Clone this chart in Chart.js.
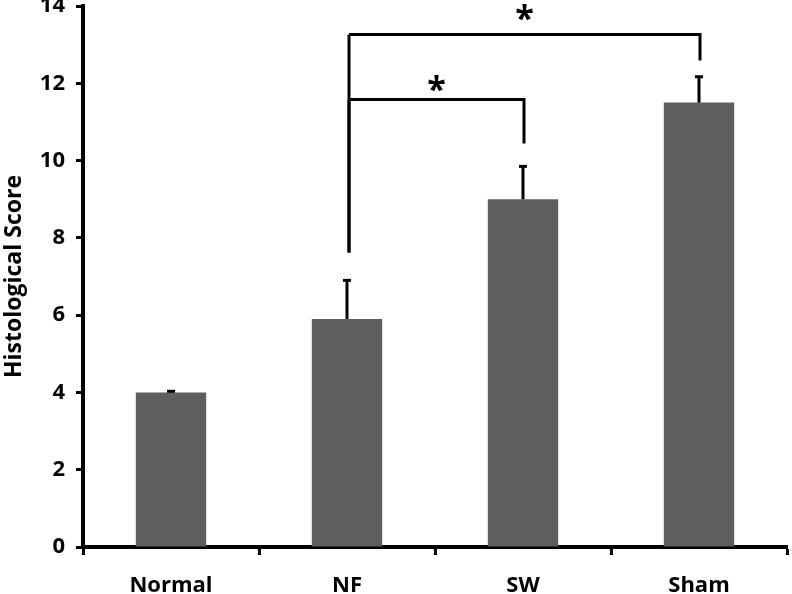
<!doctype html>
<html lang="en">
<head>
	<meta charset="utf-8">
	<title>Histological Score</title>
	<style>
		* { margin: 0; padding: 0; }
		body { background: #fff; }
		.chartBox { width: 792px; height: 594px; }
	</style>
</head>
<body>
	<div class="chartBox">
		<canvas id="scoreChart"></canvas>
	</div>
	<script src="https://cdn.jsdelivr.net/npm/chart.js"></script>
	<script>
		const groups = ['Normal', 'NF', 'SW', 'Sham']
		const scores = [4.0, 5.9, 9.0, 11.5]
		const errors = [0.03, 1.0, 0.85, 0.67] // upper error only
		const yTicks = [0, 2, 4, 6, 8, 10, 12, 14]

		// significance brackets: from group, to group, left leg bottom, bar height, right leg bottom, star height
		const bracketFrom = [1, 1]
		const bracketTo = [3, 2]
		const bracketLeftBottom = [7.62, 7.62]
		const bracketTop = [13.26, 11.58]
		const bracketRightBottom = [12.59, 10.44]
		const starY = [13.8, 11.97]

		const font = '"Open Sans", sans-serif'

		const extras = {
			id: 'extras',
			afterDatasetsDraw(chart) {
				const { ctx, scales: { x, y } } = chart
				ctx.save()
				ctx.strokeStyle = '#000'
				ctx.lineCap = 'butt'

				// error bars
				ctx.lineWidth = 3
				scores.forEach((v, i) => {
					const px = x.getPixelForValue(i)
					const top = y.getPixelForValue(v + errors[i])
					ctx.beginPath()
					ctx.moveTo(px, y.getPixelForValue(v))
					ctx.lineTo(px, top)
					ctx.stroke()
					ctx.beginPath()
					ctx.moveTo(px - 4, top)
					ctx.lineTo(px + 4, top)
					ctx.stroke()
				})

				// brackets
				ctx.lineWidth = 3
				bracketFrom.forEach((from, i) => {
					const x1 = x.getPixelForValue(from) + 2
					const x2 = x.getPixelForValue(bracketTo[i]) + 1
					const yt = y.getPixelForValue(bracketTop[i])
					ctx.beginPath()
					ctx.moveTo(x1, y.getPixelForValue(bracketLeftBottom[i]))
					ctx.lineTo(x1, yt)
					ctx.stroke()
					ctx.beginPath()
					ctx.moveTo(x1, yt)
					ctx.lineTo(x2, yt)
					ctx.lineTo(x2, y.getPixelForValue(bracketRightBottom[i]))
					ctx.stroke()
					ctx.fillStyle = '#000'
					ctx.font = 'bold 34px ' + font
					ctx.textAlign = 'center'
					ctx.textBaseline = 'middle'
					ctx.fillText('*', (x1 + x2) / 2, y.getPixelForValue(starY[i]) + 7)
				})
				ctx.restore()
			}
		}

		const config = {
			type: 'bar',
			data: {
				labels: groups,
				datasets: [{
					data: scores,
					backgroundColor: '#5f5f5f',
					barPercentage: 0.4,
					categoryPercentage: 1.0
				}]
			},
			options: {
				responsive: true,
				maintainAspectRatio: false,
				animation: false,
				layout: { padding: { top: 6, right: 5, left: 0, bottom: 0 } },
				plugins: {
					legend: { display: false },
					tooltip: { enabled: false }
				},
				scales: {
					x: {
						grid: {
							offset: true,
							drawOnChartArea: false,
							tickLength: 8,
							tickWidth: 3,
							tickColor: '#000'
						},
						border: { color: '#000', width: 4 },
						ticks: {
							color: '#000',
							padding: 18,
							font: { family: font, size: 22, weight: 'bold' }
						},
						afterFit(scale) { scale.height = 47 }
					},
					y: {
						min: 0,
						max: 14,
						afterBuildTicks(scale) { scale.ticks = yTicks.map(v => ({ value: v })) },
						grid: {
							drawOnChartArea: false,
							tickLength: 7,
							tickWidth: 3,
							tickColor: '#000'
						},
						border: { color: '#000', width: 4 },
						ticks: {
							color: '#000',
							padding: 11,
							font: { family: font, size: 22, weight: 'bold' }
						},
						title: {
							display: true,
							text: 'Histological Score',
							color: '#000',
							padding: { top: 1, bottom: 4 },
							font: { family: font, size: 23, weight: 'bold' }
						},
						afterFit(scale) {
							scale.width = 83
							scale.paddingTop = 0
							scale.paddingBottom = 0
						}
					}
				}
			},
			plugins: [extras]
		}

		new Chart(document.getElementById('scoreChart'), config)
	</script>
</body>
</html>
